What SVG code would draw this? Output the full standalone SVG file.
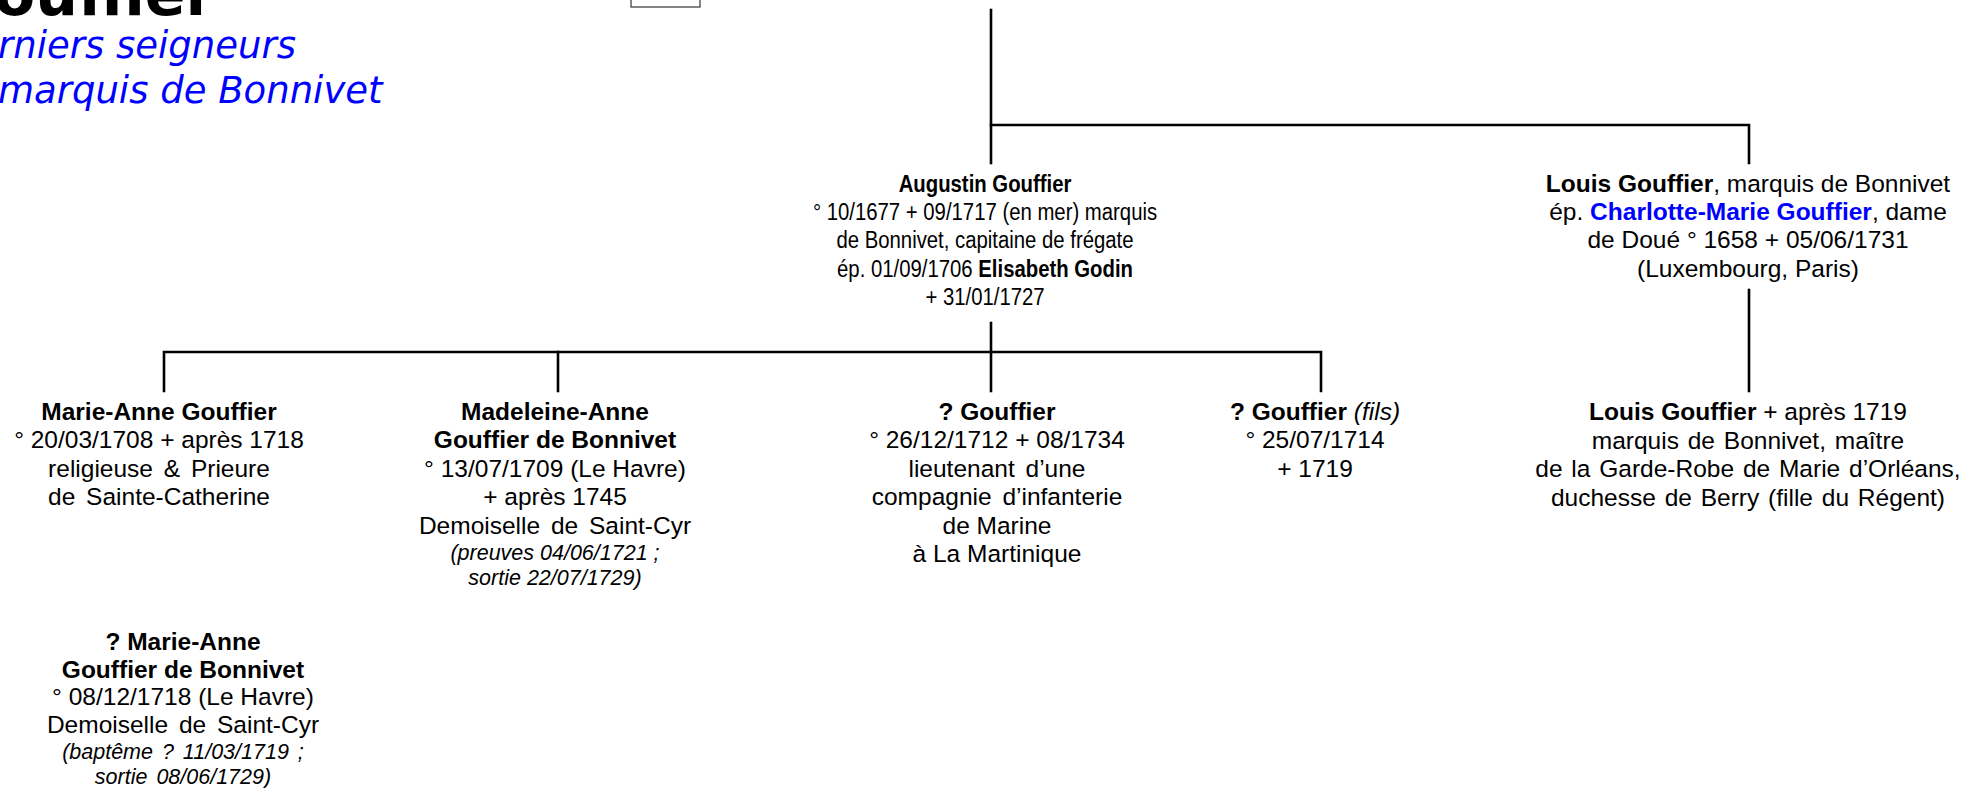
<svg xmlns="http://www.w3.org/2000/svg" width="1963" height="788" viewBox="0 0 1963 788">
<style>
.t{font-family:"Liberation Sans",Arial,sans-serif;font-size:24.5px;fill:#000;text-anchor:middle}
.b{font-weight:bold}
.i{font-style:italic;font-size:21.5px}
.fi{font-style:italic}
.blue{fill:#0000ff}
.ln{stroke:#000;stroke-width:2.6;fill:none;stroke-linecap:square}
.ttl{font-family:"DejaVu Sans",Verdana,sans-serif;font-weight:bold;font-size:60px;fill:#000}
.sub{font-family:"DejaVu Sans",Verdana,sans-serif;font-style:italic;font-size:37px;fill:#0000ff}
</style>
<rect width="1963" height="788" fill="#fff"/>
<g id="title">
<text class="ttl" x="-6" y="15">ouffier</text>
<text class="sub" x="-2" y="58">rniers seigneurs</text>
<text class="sub" x="-2" y="103">marquis de Bonnivet</text>
</g>
<g id="box"><rect x="631" y="-10" width="69" height="17" fill="#fff" stroke="#444" stroke-width="1.3"/></g>
<g id="connectors">
<path class="ln" d="M991 10 V163"/>
<path class="ln" d="M991 125 H1749 V163"/>
<path class="ln" d="M991 323 V391"/>
<path class="ln" d="M164 391 V352 H1321 V391"/>
<path class="ln" d="M558 352 V391"/>
<path class="ln" d="M1749 290 V391"/>
</g>
<g id="augustin" transform="translate(985 0) scale(0.83 1)">
<text class="t" x="0" y="192"><tspan class="b">Augustin Gouffier</tspan></text>
<text class="t" x="0" y="220">° 10/1677 + 09/1717 (en mer) marquis</text>
<text class="t" x="0" y="248">de Bonnivet, capitaine de frégate</text>
<text class="t" x="0" y="277">ép. 01/09/1706 <tspan class="b">Elisabeth Godin</tspan></text>
<text class="t" x="0" y="305">+ 31/01/1727</text>
</g>
<g id="louis">
<text class="t" x="1748" y="192"><tspan class="b">Louis Gouffier</tspan>, marquis de Bonnivet</text>
<text class="t" x="1748" y="220">ép. <tspan class="b blue">Charlotte-Marie Gouffier</tspan>, dame</text>
<text class="t" x="1748" y="248">de Doué ° 1658 + 05/06/1731</text>
<text class="t" x="1748" y="277">(Luxembourg,  Paris)</text>
</g>
<g id="marie-anne">
<text class="t b" x="159" y="420">Marie-Anne Gouffier</text>
<text class="t" x="159" y="448">° 20/03/1708 + après 1718</text>
<text class="t" x="159" y="477" word-spacing="4">religieuse &amp; Prieure</text>
<text class="t" x="159" y="505" word-spacing="4">de Sainte-Catherine</text>
</g>
<g id="madeleine">
<text class="t b" x="555" y="420">Madeleine-Anne</text>
<text class="t b" x="555" y="448">Gouffier de Bonnivet</text>
<text class="t" x="555" y="477">° 13/07/1709 (Le Havre)</text>
<text class="t" x="555" y="505">+ après 1745</text>
<text class="t" x="555" y="534" word-spacing="4">Demoiselle de Saint-Cyr</text>
<text class="t i" x="555" y="560">(preuves 04/06/1721 ;</text>
<text class="t i" x="555" y="585">sortie 22/07/1729)</text>
</g>
<g id="gouffier1">
<text class="t b" x="997" y="420">? Gouffier</text>
<text class="t" x="997" y="448">° 26/12/1712 + 08/1734</text>
<text class="t" x="997" y="477" word-spacing="4">lieutenant d’une</text>
<text class="t" x="997" y="505" word-spacing="4">compagnie d’infanterie</text>
<text class="t" x="997" y="534">de Marine</text>
<text class="t" x="997" y="562">à La Martinique</text>
</g>
<g id="gouffier-fils">
<text class="t" x="1315" y="420"><tspan class="b">? Gouffier</tspan> <tspan class="fi">(fils)</tspan></text>
<text class="t" x="1315" y="448">° 25/07/1714</text>
<text class="t" x="1315" y="477">+ 1719</text>
</g>
<g id="louis-fils">
<text class="t" x="1748" y="420"><tspan class="b">Louis Gouffier</tspan> + après 1719</text>
<text class="t" x="1748" y="449" word-spacing="2">marquis de Bonnivet, maître</text>
<text class="t" x="1748" y="477" word-spacing="2">de la Garde-Robe de Marie d’Orléans,</text>
<text class="t" x="1748" y="506" word-spacing="2">duchesse de Berry (fille du Régent)</text>
</g>
<g id="marie-anne2">
<text class="t b" x="183" y="650">? Marie-Anne</text>
<text class="t b" x="183" y="678">Gouffier de Bonnivet</text>
<text class="t" x="183" y="705">° 08/12/1718 (Le Havre)</text>
<text class="t" x="183" y="733" word-spacing="4">Demoiselle de Saint-Cyr</text>
<text class="t i" x="183" y="759" word-spacing="3">(baptême ? 11/03/1719 ;</text>
<text class="t i" x="183" y="784" word-spacing="3">sortie 08/06/1729)</text>
</g>
</svg>
